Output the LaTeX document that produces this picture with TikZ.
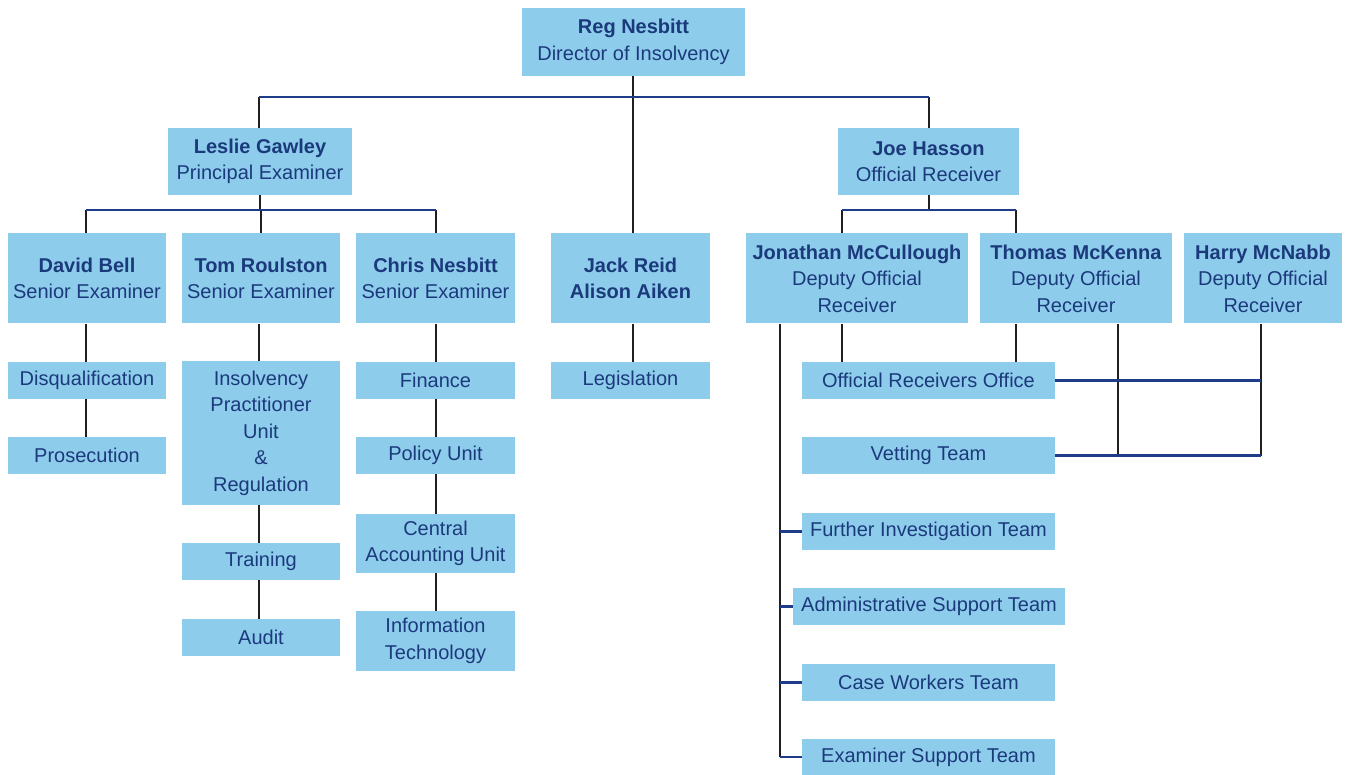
\documentclass[tikz,border=0pt]{standalone}
\usepackage{fontspec}
\setmainfont{Liberation Sans}
\definecolor{boxblue}{HTML}{8ECCEC}
\definecolor{navytext}{HTML}{1B3A7C}
\definecolor{hcol}{HTML}{1F3C88}
\definecolor{vcol}{HTML}{231F20}
\begin{document}
\begin{tikzpicture}[x=1pt,y=-1pt,
  box/.style={fill=boxblue, inner sep=0pt, align=center, text=navytext,
    font=\fontsize{20}{26.5}\selectfont},
  hline/.style={draw=hcol, line width=2.4pt},
  vline/.style={draw=vcol, line width=2pt}]
\useasboundingbox (0,0) rectangle (1349,775);
% top level
\node[box, minimum width=223pt, minimum height=68pt] (reg) at (633.5,42) {\textbf{Reg Nesbitt}\\Director of Insolvency};
\node[box, minimum width=184pt, minimum height=67pt] (leslie) at (260,161.5) {\textbf{Leslie Gawley}\\Principal Examiner};
\node[box, minimum width=181pt, minimum height=67pt] (joe) at (928.5,161.5) {\textbf{Joe Hasson}\\Official Receiver};
% third level
\node[box, minimum width=158pt, minimum height=90pt] (david) at (87,278.5) {\textbf{David Bell}\\Senior Examiner};
\node[box, minimum width=158pt, minimum height=90pt] (tom) at (261,278.5) {\textbf{Tom Roulston}\\Senior Examiner};
\node[box, minimum width=159pt, minimum height=90pt] (chris) at (435.5,278.5) {\textbf{Chris Nesbitt}\\Senior Examiner};
\node[box, minimum width=159pt, minimum height=90pt] (jack) at (630.5,278.5) {\textbf{Jack Reid}\\\textbf{Alison Aiken}};
\node[box, minimum width=222pt, minimum height=90pt] (jon) at (857,278.5) {\textbf{Jonathan McCullough}\\Deputy Official\\Receiver};
\node[box, minimum width=192pt, minimum height=90pt] (thomas) at (1076,278.5) {\textbf{Thomas McKenna}\\Deputy Official\\Receiver};
\node[box, minimum width=158pt, minimum height=90pt] (harry) at (1263,278.5) {\textbf{Harry McNabb}\\Deputy Official\\Receiver};
% units
\node[box, minimum width=158pt, minimum height=37pt] (disq) at (87,380.5) {Disqualification};
\node[box, minimum width=158pt, minimum height=37pt] (pros) at (87,455.5) {Prosecution};
\node[box, minimum width=158pt, minimum height=143pt] (ipu) at (261,433) {Insolvency\\Practitioner\\Unit\\\&\\Regulation};
\node[box, minimum width=158pt, minimum height=37pt] (train) at (261,561.5) {Training};
\node[box, minimum width=158pt, minimum height=37pt] (audit) at (261,637.5) {Audit};
\node[box, minimum width=159pt, minimum height=37pt] (fin) at (435.5,380.5) {Finance};
\node[box, minimum width=159pt, minimum height=37pt] (policy) at (435.5,455.5) {Policy Unit};
\node[box, minimum width=159pt, minimum height=59pt] (cau) at (435.5,543.5) {Central\\Accounting Unit};
\node[box, minimum width=159pt, minimum height=60pt] (it) at (435.5,641) {Information\\Technology};
\node[box, minimum width=159pt, minimum height=37pt] (leg) at (630.5,380.5) {Legislation};
\node[box, minimum width=253pt, minimum height=37pt] (oro) at (928.5,380.5) {Official Receivers Office};
\node[box, minimum width=253pt, minimum height=37pt] (vet) at (928.5,455.5) {Vetting Team};
\node[box, minimum width=253pt, minimum height=37pt] (fit) at (928.5,531.5) {Further Investigation Team};
\node[box, minimum width=272pt, minimum height=37pt] (ast) at (929,606.5) {Administrative Support Team};
\node[box, minimum width=253pt, minimum height=37pt] (cwt) at (928.5,682.5) {Case Workers Team};
\node[box, minimum width=253pt, minimum height=37pt] (est) at (928.5,757) {Examiner Support Team};
% bus coordinates
\coordinate (busA) at (633,97);
\coordinate (busB) at (260,210);
\coordinate (busC) at (928.5,210);
\coordinate (lesX) at (259,0);
\coordinate (davX) at (86,0);
\coordinate (jonX) at (842,0);
\coordinate (thoX) at (1016,0);
\coordinate (thoX2) at (1118,0);
\coordinate (harX) at (1261,0);
\coordinate (jonL) at (780,0);
% top connectors
\draw[vline] (reg.south -| busA) -- (busA |- jack.north);
\draw[vline] (lesX |- busA) -- (lesX |- leslie.north);
\draw[vline] (joe.north |- busA) -- (joe.north);
\draw[hline] (lesX |- busA) -- (joe.north |- busA);
% Leslie branch
\draw[vline] (leslie.south) -- (busB);
\draw[vline] (davX |- busB) -- (davX |- david.north);
\draw[vline] (tom.north |- busB) -- (tom.north);
\draw[vline] (chris.north |- busB) -- (chris.north);
\draw[hline] (davX |- busB) -- (chris.north |- busB);
% Joe branch
\draw[vline] (joe.south) -- (busC);
\draw[vline] (jonX |- busC) -- (jonX |- jon.north);
\draw[vline] (thoX |- busC) -- (thoX |- thomas.north);
\draw[hline] (jonX |- busC) -- (thoX |- busC);
% unit chains
\draw[vline] (davX |- david.south) -- (davX |- disq.north);
\draw[vline] (davX |- disq.south) -- (davX |- pros.north);
\draw[vline] (lesX |- tom.south) -- (lesX |- ipu.north);
\draw[vline] (lesX |- ipu.south) -- (lesX |- train.north);
\draw[vline] (lesX |- train.south) -- (lesX |- audit.north);
\draw[vline] (chris.south) -- (fin.north);
\draw[vline] (fin.south) -- (policy.north);
\draw[vline] (policy.south) -- (cau.north);
\draw[vline] (cau.south) -- (it.north);
\draw[vline] (busA |- jack.south) -- (busA |- leg.north);
% Official receiver units
\draw[vline] (jonX |- jon.south) -- (jonX |- oro.north);
\draw[vline] (thoX |- thomas.south) -- (thoX |- oro.north);
\draw[vline] (thoX2 |- thomas.south) -- (thoX2 |- vet.east);
\draw[vline] (harX |- harry.south) -- (harX |- vet.east);
\draw[hline] (oro.east) -- (harX |- oro.east);
\draw[hline] (vet.east) -- (harX |- vet.east);
\draw[vline] (jonL |- jon.south) -- (jonL |- est.west);
\draw[hline] (jonL |- fit.west) -- (fit.west);
\draw[hline] (jonL |- ast.west) -- (ast.west);
\draw[hline] (jonL |- cwt.west) -- (cwt.west);
\draw[hline] (jonL |- est.west) -- (est.west);
\end{tikzpicture}
\end{document}
